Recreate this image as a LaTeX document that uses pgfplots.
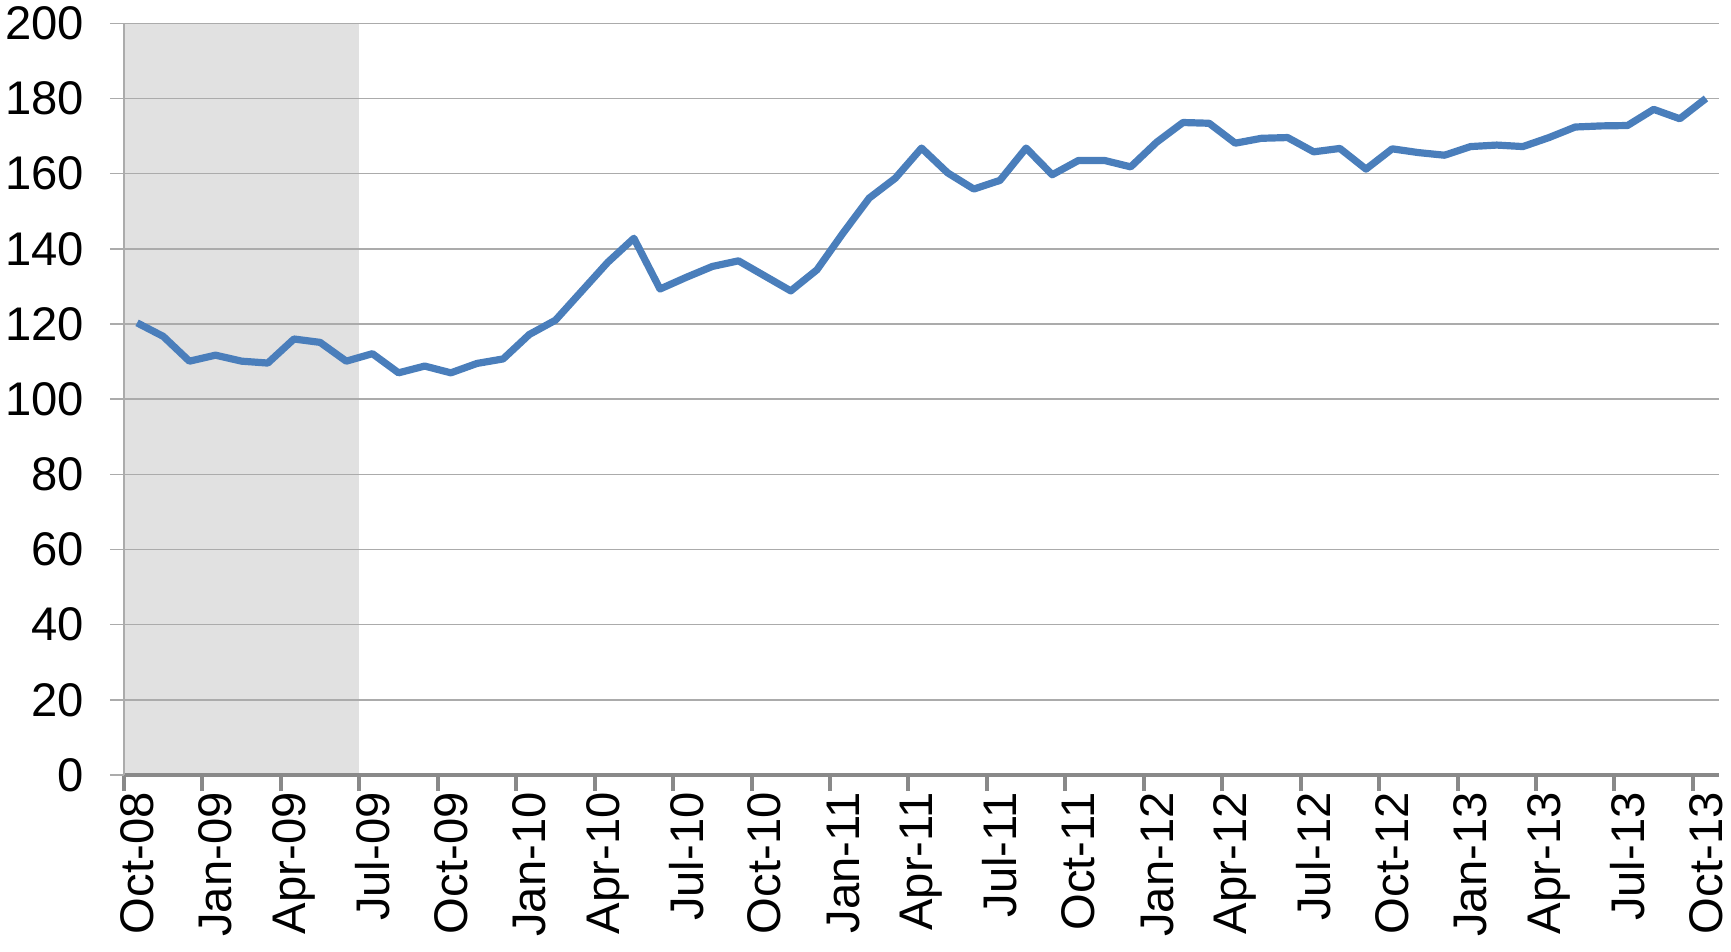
\documentclass[border=0pt]{standalone}
\usepackage{pgfplots}
\pgfplotsset{compat=1.18}
\usepackage{fontspec}
\setmainfont{Liberation Sans}
\definecolor{lineblue}{HTML}{4A7EBB}
\definecolor{shadegray}{HTML}{E1E1E1}
\definecolor{gridgray}{HTML}{ABABAB}
\definecolor{axisgray}{HTML}{898989}
\begin{document}
\begin{tikzpicture}
\begin{axis}[
 name=ax, set layers,
 scale only axis, width=797.5pt, height=375.85pt,
 xmin=0, xmax=61, ymin=0, ymax=200,
 axis x line*=bottom, axis y line*=left,
 ytick={0,20,...,200},
 xtick={0.5,3.5,...,60.5},
 xticklabels={Oct-08,Jan-09,Apr-09,Jul-09,Oct-09,Jan-10,Apr-10,Jul-10,Oct-10,Jan-11,Apr-11,Jul-11,Oct-11,Jan-12,Apr-12,Jul-12,Oct-12,Jan-13,Apr-13,Jul-13,Oct-13},
 minor xtick={0,3,...,60},
 tick align=outside, major tick length=7pt, minor tick length=8pt,
 major x tick style={draw=none},
 minor x tick style={draw=axisgray, line width=2pt},
 ytick style={draw=gridgray, line width=0.7pt},
 ymajorgrids, major grid style={draw=gridgray, line width=0.7pt},
 x axis line style={draw=axisgray, line width=2pt},
 y axis line style={draw=gridgray, line width=0.7pt},
 tick label style={font=\fontsize{23.6}{28}\selectfont, inner sep=0pt},
 /pgf/number format/assume math mode=true,
 yticklabel style={anchor=east},
 xticklabel style={rotate=90, anchor=east},
 yticklabel shift=12.7pt,
 xticklabel shift=1.5pt,
 clip=false,
]
\addplot[on layer=axis background, fill=shadegray, draw=none] coordinates {(0,200) (9,200)} \closedcycle;
\addplot[lineblue, line width=3.6pt, line join=round, mark=none] table {
x y
0.5 120.3
1.5 116.7
2.5 110.1
3.5 111.7
4.5 110.1
5.5 109.6
6.5 116.0
7.5 115.1
8.5 110.1
9.5 112.1
10.5 107.0
11.5 108.8
12.5 107.0
13.5 109.5
14.5 110.7
15.5 117.2
16.5 121.0
17.5 128.7
18.5 136.4
19.5 142.8
20.5 129.3
21.5 132.4
22.5 135.3
23.5 136.8
24.5 132.8
25.5 128.8
26.5 134.4
27.5 144.2
28.5 153.5
29.5 158.8
30.5 166.8
31.5 160.2
32.5 155.9
33.5 158.2
34.5 166.8
35.5 159.7
36.5 163.5
37.5 163.5
38.5 161.8
39.5 168.4
40.5 173.6
41.5 173.4
42.5 168.1
43.5 169.4
44.5 169.6
45.5 165.8
46.5 166.7
47.5 161.2
48.5 166.6
49.5 165.6
50.5 164.9
51.5 167.2
52.5 167.6
53.5 167.2
54.5 169.6
55.5 172.4
56.5 172.7
57.5 172.8
58.5 177.1
59.5 174.6
60.5 180.0
};
\end{axis}
\pgfresetboundingbox
\path ([shift={(-62pt,-88pt)}]ax.south west) rectangle ([shift={(6pt,11.65pt)}]ax.north east);
\end{tikzpicture}
\end{document}
